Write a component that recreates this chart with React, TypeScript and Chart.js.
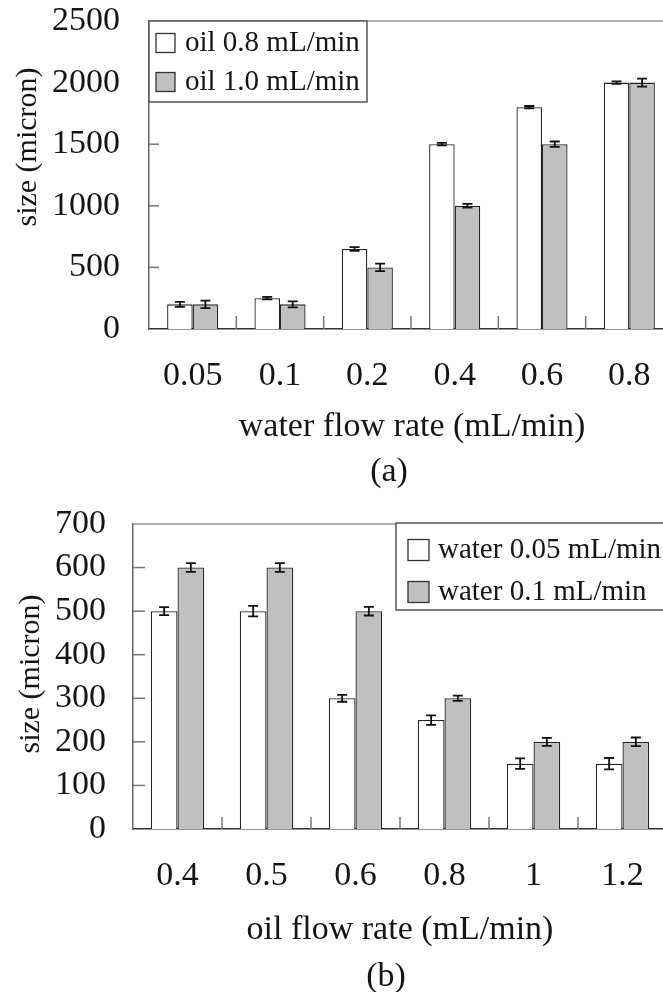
import React, { useEffect, useRef } from "react";
import { Chart, registerables } from "chart.js";

Chart.register(...registerables);

// Panel (a): droplet size vs water flow rate
const waterRates = ["0.05", "0.1", "0.2", "0.4", "0.6", "0.8"];
const oil08Size = [200, 250, 650, 1500, 1800, 2000];
const oil08Err = [20, 10, 15, 10, 10, 10];
const oil10Size = [200, 200, 500, 1000, 1500, 2000];
const oil10Err = [30, 25, 30, 15, 22, 32];
const sizeTicksA = [0, 500, 1000, 1500, 2000, 2500];

// Panel (b): droplet size vs oil flow rate
const oilRates = ["0.4", "0.5", "0.6", "0.8", "1", "1.2"];
const water005Size = [500, 500, 300, 250, 150, 150];
const water005Err = [9, 12, 8, 11, 12, 13];
const water01Size = [600, 600, 500, 300, 200, 200];
const water01Err = [10, 10, 10, 6, 9, 10];
const sizeTicksB = [0, 100, 200, 300, 400, 500, 600, 700];

const SERIF = "'Liberation Serif', 'Times New Roman', serif";
const INK = "#151515";
const BAR_EDGE = "#262626";
const GRAY_FILL = "#c0c0c0";

type TextItem = { text: string; x: number; y: number; size: number; rotate?: boolean };
type Decor = {
  yTickLen: number;
  xTickLen: number;
  frameColor: string;
  legend: { dx: number; dy: number; w: number; h: number; rows: number[]; swatchX: number; swatch: number; textX: number; size: number };
  texts: TextItem[];
};

function makeDecor(cfg: Decor) {
  return {
    id: "decor",
    afterDatasetsDraw(chart: any) {
      const { ctx, chartArea: ca, scales } = chart;
      const xs = scales.x;
      const ys = scales.y;
      ctx.save();
      ctx.lineCap = "butt";

      // frame line along the top of the plot area
      ctx.strokeStyle = cfg.frameColor;
      ctx.lineWidth = 1.5;
      ctx.beginPath();
      ctx.moveTo(ca.left, ca.top);
      ctx.lineTo(chart.width, ca.top);
      ctx.stroke();

      // inward value tick marks
      ctx.strokeStyle = "#777";
      ctx.lineWidth = 1.5;
      ys.ticks.forEach((t: any) => {
        if (t.value <= ys.min || t.value >= ys.max) return;
        const py = ys.getPixelForValue(t.value);
        ctx.beginPath();
        ctx.moveTo(ca.left, py);
        ctx.lineTo(ca.left + cfg.yTickLen, py);
        ctx.stroke();
      });

      // category separator marks standing on the baseline
      const n = chart.data.labels.length;
      for (let i = 0; i < n - 1; i++) {
        const px = (xs.getPixelForValue(i) + xs.getPixelForValue(i + 1)) / 2;
        ctx.beginPath();
        ctx.moveTo(px, ca.bottom);
        ctx.lineTo(px, ca.bottom - cfg.xTickLen);
        ctx.stroke();
      }

      // error bars
      ctx.strokeStyle = "#111";
      ctx.lineWidth = 1.8;
      chart.data.datasets.forEach((ds: any, di: number) => {
        const meta = chart.getDatasetMeta(di);
        meta.data.forEach((bar: any, j: number) => {
          const v = ds.data[j];
          const e = ds.errors[j];
          const yt = ys.getPixelForValue(v + e);
          const yb = ys.getPixelForValue(v - e);
          const cap = 5;
          ctx.beginPath();
          ctx.moveTo(bar.x, yt);
          ctx.lineTo(bar.x, yb);
          ctx.moveTo(bar.x - cap, yt);
          ctx.lineTo(bar.x + cap, yt);
          ctx.moveTo(bar.x - cap, yb);
          ctx.lineTo(bar.x + cap, yb);
          ctx.stroke();
        });
      });
      ctx.restore();
    },
    afterDraw(chart: any) {
      const { ctx, chartArea: ca } = chart;
      const L = cfg.legend;
      ctx.save();

      // legend box
      const bx = ca.left + L.dx;
      const by = ca.top + L.dy;
      ctx.fillStyle = "#fff";
      ctx.fillRect(bx, by, L.w, L.h);
      ctx.strokeStyle = "#555";
      ctx.lineWidth = 1.5;
      ctx.strokeRect(bx, by, L.w, L.h);
      chart.data.datasets.forEach((ds: any, i: number) => {
        const cy = by + L.rows[i];
        ctx.fillStyle = ds.backgroundColor;
        ctx.fillRect(bx + L.swatchX, cy - L.swatch / 2, L.swatch, L.swatch);
        ctx.strokeStyle = "#333";
        ctx.lineWidth = 1.3;
        ctx.strokeRect(bx + L.swatchX, cy - L.swatch / 2, L.swatch, L.swatch);
        ctx.fillStyle = INK;
        ctx.font = `${L.size}px ${SERIF}`;
        ctx.textAlign = "left";
        ctx.textBaseline = "middle";
        ctx.fillText(ds.label, bx + L.textX, cy);
      });

      // axis titles and panel caption
      cfg.texts.forEach((t) => {
        ctx.save();
        ctx.fillStyle = INK;
        ctx.font = `${t.size}px ${SERIF}`;
        ctx.textAlign = "center";
        ctx.textBaseline = "middle";
        ctx.translate(t.x, t.y);
        if (t.rotate) ctx.rotate(-Math.PI / 2);
        ctx.fillText(t.text, 0, 0);
        ctx.restore();
      });
      ctx.restore();
    },
  };
}

function buildConfig(
  labels: string[],
  series: { label: string; data: number[]; errors: number[]; fill: string }[],
  ticks: number[],
  geom: { yWidth: number; xHeight: number; padTop: number; padRight: number; yPad: number; catPct: number },
  decor: Decor
): any {
  return {
    type: "bar",
    data: {
      labels,
      datasets: series.map((s) => ({
        label: s.label,
        data: s.data,
        errors: s.errors,
        backgroundColor: s.fill,
        borderColor: BAR_EDGE,
        borderWidth: 1.3,
        categoryPercentage: geom.catPct,
        barPercentage: 1,
      })),
    },
    options: {
      responsive: false,
      animation: false,
      devicePixelRatio: 1,
      layout: { padding: { top: geom.padTop, right: geom.padRight, left: 0, bottom: 0 } },
      plugins: { legend: { display: false }, tooltip: { enabled: false }, title: { display: false } },
      scales: {
        x: {
          grid: { display: false, drawTicks: false },
          border: { display: true, color: "#333", width: 1.5 },
          ticks: { font: { family: SERIF, size: 34 }, color: INK, padding: 27, autoSkip: false, maxRotation: 0 },
          afterFit: (s: any) => {
            s.height = geom.xHeight;
            s.paddingLeft = 0;
            s.paddingRight = 0;
          },
        },
        y: {
          min: ticks[0],
          max: ticks[ticks.length - 1],
          afterBuildTicks: (s: any) => {
            s.ticks = ticks.map((v) => ({ value: v }));
          },
          grid: { display: false, drawTicks: false },
          border: { display: true, color: "#666", width: 1.5 },
          ticks: {
            font: { family: SERIF, size: 34 },
            color: INK,
            padding: geom.yPad,
            autoSkip: false,
            callback: (v: any) => String(v),
          },
          afterFit: (s: any) => {
            s.width = geom.yWidth;
            s.paddingTop = 0;
            s.paddingBottom = 0;
          },
        },
      },
    },
    plugins: [makeDecor(decor)],
  };
}

export default function App() {
  const refA = useRef<HTMLCanvasElement>(null);
  const refB = useRef<HTMLCanvasElement>(null);

  useEffect(() => {
    const chartA = new Chart(
      refA.current as HTMLCanvasElement,
      buildConfig(
        waterRates,
        [
          { label: "oil 0.8 mL/min", data: oil08Size, errors: oil08Err, fill: "#ffffff" },
          { label: "oil 1.0 mL/min", data: oil10Size, errors: oil10Err, fill: GRAY_FILL },
        ],
        sizeTicksA,
        { yWidth: 149, xHeight: 492 - 329, padTop: 21, padRight: 27, yPad: 29, catPct: 0.585 },
        {
          yTickLen: 10,
          xTickLen: 13,
          frameColor: "#999",
          legend: { dx: 0, dy: 0, w: 218, h: 81, rows: [22, 61], swatchX: 7, swatch: 19, textX: 36, size: 29 },
          texts: [
            { text: "size (micron)", x: 28, y: 147, size: 30, rotate: true },
            { text: "water flow rate (mL/min)", x: 412, y: 427, size: 34 },
            { text: "(a)", x: 389, y: 472, size: 34 },
          ],
        }
      )
    );
    const chartB = new Chart(
      refB.current as HTMLCanvasElement,
      buildConfig(
        oilRates,
        [
          { label: "water 0.05 mL/min", data: water005Size, errors: water005Err, fill: "#ffffff" },
          { label: "water 0.1 mL/min", data: water01Size, errors: water01Err, fill: GRAY_FILL },
        ],
        sizeTicksB,
        { yWidth: 133, xHeight: 502 - 339, padTop: 34, padRight: 33, yPad: 27, catPct: 0.6 },
        {
          yTickLen: 12,
          xTickLen: 12,
          frameColor: "#999",
          legend: { dx: 263, dy: -1, w: 330, h: 87, rows: [27, 69], swatchX: 12, swatch: 21, textX: 42, size: 29 },
          texts: [
            { text: "size (micron)", x: 31, y: 184, size: 30, rotate: true },
            { text: "oil flow rate (mL/min)", x: 400, y: 440, size: 34 },
            { text: "(b)", x: 386, y: 487, size: 34 },
          ],
        }
      )
    );
    return () => {
      chartA.destroy();
      chartB.destroy();
    };
  }, []);

  return (
    <div
      style={{
        position: "fixed",
        left: 0,
        top: 0,
        width: 663,
        height: 992,
        overflow: "hidden",
        background: "#fff",
      }}
    >
      <canvas ref={refA} width={700} height={492} style={{ position: "absolute", left: 0, top: 0 }} />
      <canvas ref={refB} width={700} height={502} style={{ position: "absolute", left: 0, top: 490 }} />
    </div>
  );
}
